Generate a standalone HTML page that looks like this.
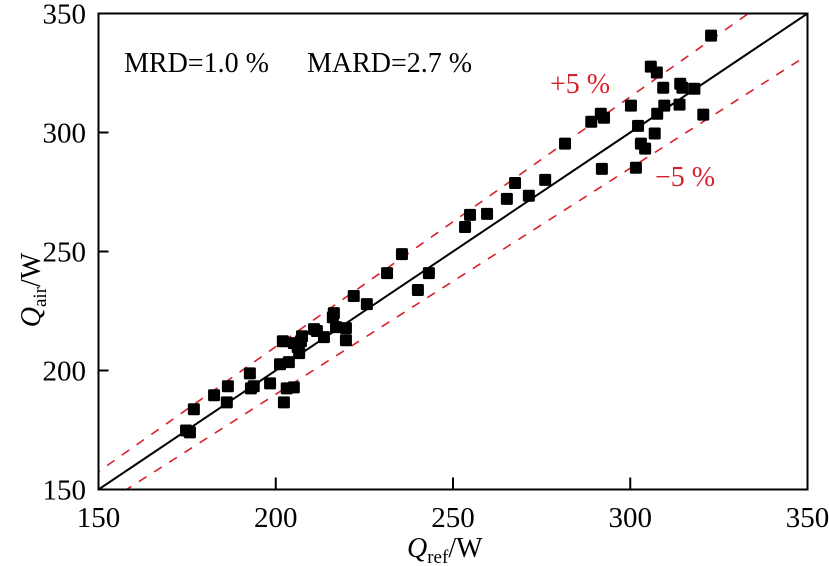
<!DOCTYPE html>
<html><head><meta charset="utf-8"><style>
body{margin:0;background:#fff}
svg{display:block}
text{font-family:"Liberation Serif","Times New Roman",serif}
</style></head><body>
<svg id="chart" width="829" height="566" viewBox="0 0 829 566" xmlns="http://www.w3.org/2000/svg" font-family="Liberation Serif, serif">
<g id="lines"></g><g id="points"></g><g id="axes"></g>
<text x="124" y="72" font-size="28" font-family="Liberation Serif, serif">MRD=1.0 %</text>
<text x="307" y="72" font-size="28" font-family="Liberation Serif, serif">MARD=2.7 %</text>
<text x="550" y="93" font-size="28" fill="#d8202a" font-family="Liberation Serif, serif">+5 %</text>
<text x="655" y="186" font-size="28" fill="#d8202a" font-family="Liberation Serif, serif">−5 %</text>
<text x="407" y="557" font-size="28" font-family="Liberation Serif, serif"><tspan font-style="italic">Q</tspan><tspan font-size="19" dy="6">ref</tspan><tspan dy="-6">/W</tspan></text>
<text transform="translate(40,290) rotate(-90)" font-size="28" text-anchor="middle" font-family="Liberation Serif, serif"><tspan font-style="italic">Q</tspan><tspan font-size="19" dy="6">air</tspan><tspan dy="-6">/W</tspan></text>
</svg>
<script>
const qRef=[174.7,175.8,176.9,182.6,186.2,186.5,192.7,193,193.8,198.4,201.2,202,202.3,203.1,203.7,205.1,205.1,206.6,207.1,206.2,207.4,210.8,211.6,213.6,217,216.1,216.4,219.8,219.8,222,225.7,231.4,235.6,240.1,243.2,253.4,254.8,259.6,265.2,267.5,271.4,276,281.6,289,291.7,292.6,292,300.2,301.6,302.2,303,304.2,305.8,307.5,306.9,307.6,309.3,309.6,314.1,314.7,313.9,318.1,320.6,322.8];
const qAir=[174.8,174,183.7,189.6,186.6,193.4,198.8,192.5,193.4,194.6,202.6,212.3,186.6,192.5,203.5,192.9,211.5,207.3,212.3,209.8,214.4,217.4,216.6,214,218.2,222.4,224.1,217.8,212.7,231.3,227.9,240.9,248.9,233.8,240.9,260.3,265.4,265.8,272.1,278.8,273.4,280.1,295.3,304.5,307.9,306.2,284.7,311.3,285.2,302.8,295.3,293.2,327.7,325.2,299.6,307.9,318.8,311.3,320.5,318.8,311.7,318.4,307.5,340.7];
const ticks=[150,200,250,300,350];
const X0=98.5,X1=807.5,Y0=489.5,Y1=13.5;
const sx=v=>X0+(v-150)/200*(X1-X0), sy=v=>Y0-(v-150)/200*(Y0-Y1);
const NS="http://www.w3.org/2000/svg";
function mk(t,a,p){const e=document.createElementNS(NS,t);for(const k in a)e.setAttribute(k,a[k]);p.appendChild(e);return e;}
const L=document.getElementById('lines'),P=document.getElementById('points'),A=document.getElementById('axes');
const clip=mk('clipPath',{id:'pc'},L);mk('rect',{x:X0,y:Y1,width:X1-X0,height:Y0-Y1},clip);
const g=mk('g',{'clip-path':'url(#pc)'},L);
let l=mk('line',{x1:sx(150),y1:sy(150),x2:sx(350),y2:sy(350),stroke:'#000','stroke-width':2},g);


[[1.05,'plus-5-line'],[0.95,'minus-5-line']].forEach(([f,n])=>{
 const e=mk('line',{x1:sx(140),y1:sy(140*f),x2:sx(360),y2:sy(360*f),stroke:'#d8202a','stroke-width':1.6,'stroke-dasharray':'9,9'},g);
 
 
});
qRef.forEach((v,i)=>{
 const r=mk('rect',{x:sx(v)-6,y:sy(qAir[i])-6,width:12,height:12,rx:1.5,fill:'#000'},P);
 
 
});
const fr=mk('rect',{x:X0,y:Y1,width:X1-X0,height:Y0-Y1,fill:'none',stroke:'#000','stroke-width':2},A);


ticks.forEach(t=>{
 mk('line',{x1:sx(t),y1:Y0,x2:sx(t),y2:Y0-12,stroke:'#000','stroke-width':2},A);
 mk('line',{x1:X0,y1:sy(t),x2:X0+10,y2:sy(t),stroke:'#000','stroke-width':2},A);
 const tx=mk('text',{x:sx(t),y:527,'font-size':29,'text-anchor':'middle','font-family':'Liberation Serif, serif'},A);tx.textContent=t;
 
 
 const ty=mk('text',{x:86,y:sy(t)+10,'font-size':29,'text-anchor':'end','font-family':'Liberation Serif, serif'},A);ty.textContent=t;
 
 
});
</script>
</body></html>
